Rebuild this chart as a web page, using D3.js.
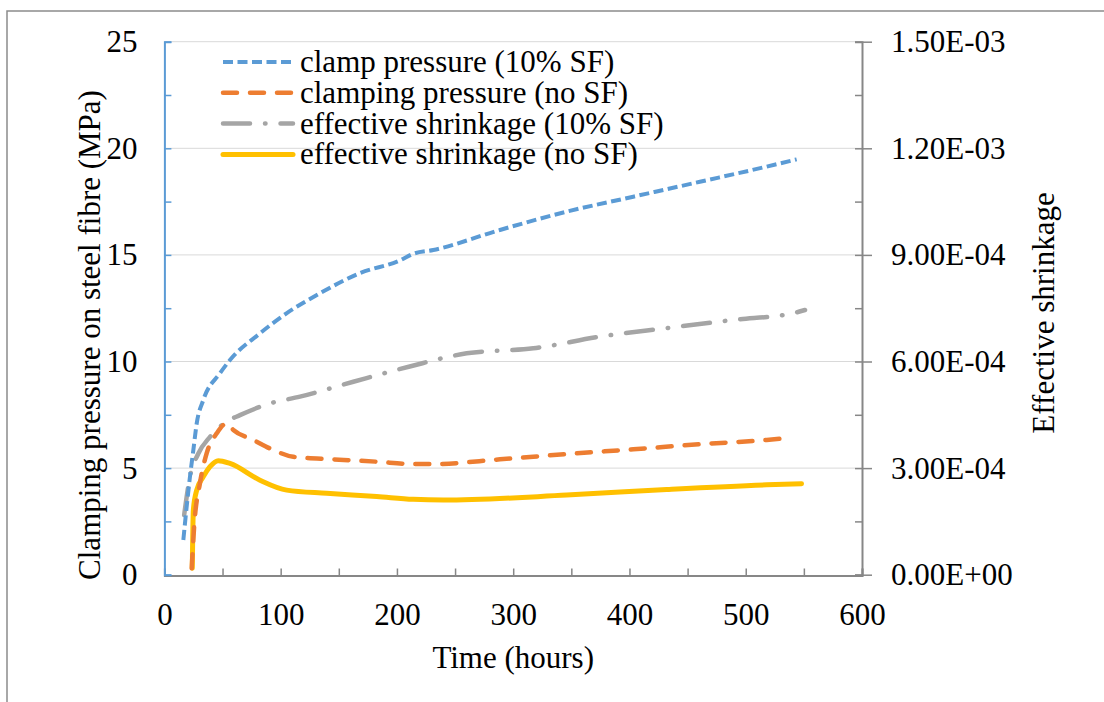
<!DOCTYPE html>
<html>
<head>
<meta charset="utf-8">
<script src="https://cdn.jsdelivr.net/npm/d3@7"></script>
<style>
  html, body { margin: 0; padding: 0; background: #fff; }
  svg text { font-family: "Liberation Serif", "Times New Roman", serif; fill: #000; }
</style>
</head>
<body>
<div id="chart"></div>
<script>
// Time (hours) / clamping pressure (MPa)
const clamp10Time = [16.3, 17.7, 22, 24.9, 27.8, 33.5, 47.8, 56.4, 82.2, 105, 133.8, 168, 202.8, 214, 231.3, 288.6, 346, 403.3, 460.6, 518, 543.8];
const clamp10Value = [1.63, 2.41, 4.6, 5.85, 7.1, 8.2, 9.45, 10.07, 11.32, 12.26, 13.2, 14.14, 14.75, 15.05, 15.23, 16.17, 17.03, 17.73, 18.43, 19.14, 19.48];

const clampNoTime = [23.5, 25.5, 30.6, 36.4, 45, 53.6, 59.3, 76.5, 93.7, 110.9, 145.3, 182.6, 214, 231.3, 288.6, 346, 403.3, 460.6, 518, 538];
const clampNoValue = [0.3, 2.2, 4.3, 5.7, 6.63, 7.1, 6.79, 6.32, 5.85, 5.53, 5.41, 5.3, 5.19, 5.19, 5.41, 5.66, 5.88, 6.12, 6.32, 6.43];

// effective shrinkage (right axis)
const shrink10Time = [17, 22, 29.2, 39.2, 53.6, 65, 90.8, 116.6, 162.5, 211, 260, 317.3, 374.6, 432, 489.3, 540.9, 551];
const shrink10Value = [1.68e-4, 2.76e-4, 3.41e-4, 3.88e-4, 4.31e-4, 4.49e-4, 4.82e-4, 5.01e-4, 5.43e-4, 5.86e-4, 6.23e-4, 6.37e-4, 6.70e-4, 6.94e-4, 7.17e-4, 7.36e-4, 7.45e-4];

const shrinkNoTime = [24, 24.9, 27.8, 33.5, 39.2, 46.4, 56.4, 82.2, 105.2, 139.6, 182.6, 214, 239.9, 346, 432, 518, 548];
const shrinkNoValue = [1.8e-5, 1.82e-4, 2.38e-4, 2.76e-4, 3.04e-4, 3.21e-4, 3.13e-4, 2.66e-4, 2.38e-4, 2.29e-4, 2.20e-4, 2.12e-4, 2.10e-4, 2.24e-4, 2.40e-4, 2.53e-4, 2.56e-4];

const xTicks = [0, 100, 200, 300, 400, 500, 600];
const yLeftTicks = [0, 5, 10, 15, 20, 25];
const yRightTicks = [0, 3e-4, 6e-4, 9e-4, 1.2e-3, 1.5e-3];

const seriesNames = [
  "clamp pressure (10% SF)",
  "clamping pressure (no SF)",
  "effective shrinkage (10% SF)",
  "effective shrinkage (no SF)"
];

const width = 1104;
const height = 702;
const margin = { top: 41.7, right: 242, bottom: 127.3, left: 164.4 };
const fontSize = 31;

const svg = d3.select("#chart").append("svg").attr("width", width).attr("height", height);

// outer frame (only top and left edges are visible)
svg.append("path")
  .attr("d", `M7,702V11H1104`)
  .attr("fill", "none")
  .attr("stroke", "#8c8c8c")
  .attr("stroke-width", 1.5);

const x = d3.scaleLinear().domain([0, 600]).range([margin.left, width - margin.right]);
const y = d3.scaleLinear().domain([0, 25]).range([height - margin.bottom, margin.top]);
const yR = d3.scaleLinear().domain([0, 1.5e-3]).range([height - margin.bottom, margin.top]);

// gridlines
svg.append("g")
  .selectAll("line")
  .data(yLeftTicks.slice(1))
  .join("line")
  .attr("x1", x(0))
  .attr("x2", x(600))
  .attr("y1", (d) => y(d))
  .attr("y2", (d) => y(d))
  .attr("stroke", "#d9d9d9")
  .attr("stroke-width", 1);

const fmtE = (v) => {
  if (v === 0) return "0.00E+00";
  const e = Math.floor(Math.log10(v) + 1e-9);
  const m = v / Math.pow(10, e);
  return m.toFixed(2) + "E" + (e < 0 ? "-" : "+") + String(Math.abs(e)).padStart(2, "0");
};

// minor tick values (half steps)
const minorLeft = d3.range(0, 25.01, 2.5);
const minorRight = minorLeft.map((d) => (d / 25) * 1.5e-3);
const minorX = d3.range(0, 600.1, 50);

// x axis
const xAxis = svg.append("g")
  .attr("transform", `translate(0,${y(0) + 0.8})`)
  .call(d3.axisBottom(x).tickValues(minorX).tickSize(-7).tickPadding(27)
    .tickFormat((d) => (xTicks.includes(d) ? d : "")));
xAxis.select(".domain").attr("stroke", "#878787").attr("stroke-width", 2);
xAxis.selectAll(".tick line").attr("stroke", "#878787").attr("stroke-width", 1.5);

// right axis: minor inside ticks, then crossing major ticks with labels
const rMinor = svg.append("g")
  .attr("transform", `translate(${x(600)},0)`)
  .call(d3.axisRight(yR).tickValues(minorRight).tickSize(-7).tickFormat(""));
rMinor.select(".domain").attr("stroke", "#878787").attr("stroke-width", 2);
rMinor.selectAll(".tick line").attr("stroke", "#878787").attr("stroke-width", 1.5);

const rMajor = svg.append("g")
  .attr("transform", `translate(${x(600)},0)`)
  .call(d3.axisRight(yR).tickValues(yRightTicks).tickSize(10).tickPadding(19).tickFormat(fmtE));
rMajor.select(".domain").remove();
rMajor.selectAll(".tick line").attr("stroke", "#878787").attr("stroke-width", 1.5);

// left axis (blue)
const lAxis = svg.append("g")
  .attr("transform", `translate(${x(0)},0)`)
  .call(d3.axisLeft(y).tickValues(minorLeft).tickSize(-7).tickPadding(27)
    .tickFormat((d) => (yLeftTicks.includes(d) ? d : "")));
lAxis.select(".domain").attr("stroke", "#5b9bd5").attr("stroke-width", 2);
lAxis.selectAll(".tick line").attr("stroke", "#5b9bd5").attr("stroke-width", 1.5);

svg.selectAll(".tick text").style("font-size", fontSize + "px").attr("fill", "#000");

// axis titles
svg.append("text")
  .attr("x", x(300))
  .attr("y", 668)
  .attr("text-anchor", "middle")
  .style("font-size", fontSize + "px")
  .text("Time (hours)");

svg.append("text")
  .attr("transform", "translate(100,335) rotate(-90)")
  .attr("text-anchor", "middle")
  .style("font-size", fontSize + "px")
  .text("Clamping pressure on steel fibre (MPa)");

svg.append("text")
  .attr("transform", "translate(1054,313) rotate(-90)")
  .attr("text-anchor", "middle")
  .style("font-size", fontSize + "px")
  .text("Effective shrinkage");

// series
const series = [
  { t: clamp10Time, v: clamp10Value, scale: y, color: "#5b9bd5", dash: "10,4.5", w: 4, cap: "butt" },
  { t: clampNoTime, v: clampNoValue, scale: y, color: "#ed7d31", dash: "14,13", w: 4.5, cap: "round" },
  { t: shrink10Time, v: shrink10Value, scale: yR, color: "#a5a5a5", dash: "27,15,0.5,15", w: 4.5, cap: "round" },
  { t: shrinkNoTime, v: shrinkNoValue, scale: yR, color: "#ffc000", dash: null, w: 5, cap: "round" }
];

const lines = svg.append("g");
// draw in reverse so the blue line sits on top as in the reference
series.slice().reverse().forEach((s) => {
  const pts = s.t.map((t, i) => [t, s.v[i]]);
  const line = d3.line()
    .x((d) => x(d[0]))
    .y((d) => s.scale(d[1]))
    .curve(d3.curveMonotoneX);
  lines.append("path")
    .datum(pts)
    .attr("d", line)
    .attr("fill", "none")
    .attr("stroke", s.color)
    .attr("stroke-width", s.w)
    .attr("stroke-linecap", s.cap)
    .attr("stroke-linejoin", "round")
    .attr("stroke-dasharray", s.dash);
});

// legend
const legend = svg.append("g").attr("transform", "translate(223,62)");
series.forEach((s, i) => {
  const row = legend.append("g").attr("transform", `translate(0,${i * 30.8})`);
  row.append("line")
    .attr("x1", 0)
    .attr("x2", 70)
    .attr("stroke", s.color)
    .attr("stroke-width", s.w)
    .attr("stroke-linecap", s.cap)
    .attr("stroke-dasharray", s.dash);
  row.append("text")
    .attr("x", 77)
    .attr("y", 10)
    .style("font-size", fontSize + "px")
    .text(seriesNames[i]);
});
</script>
</body>
</html>
